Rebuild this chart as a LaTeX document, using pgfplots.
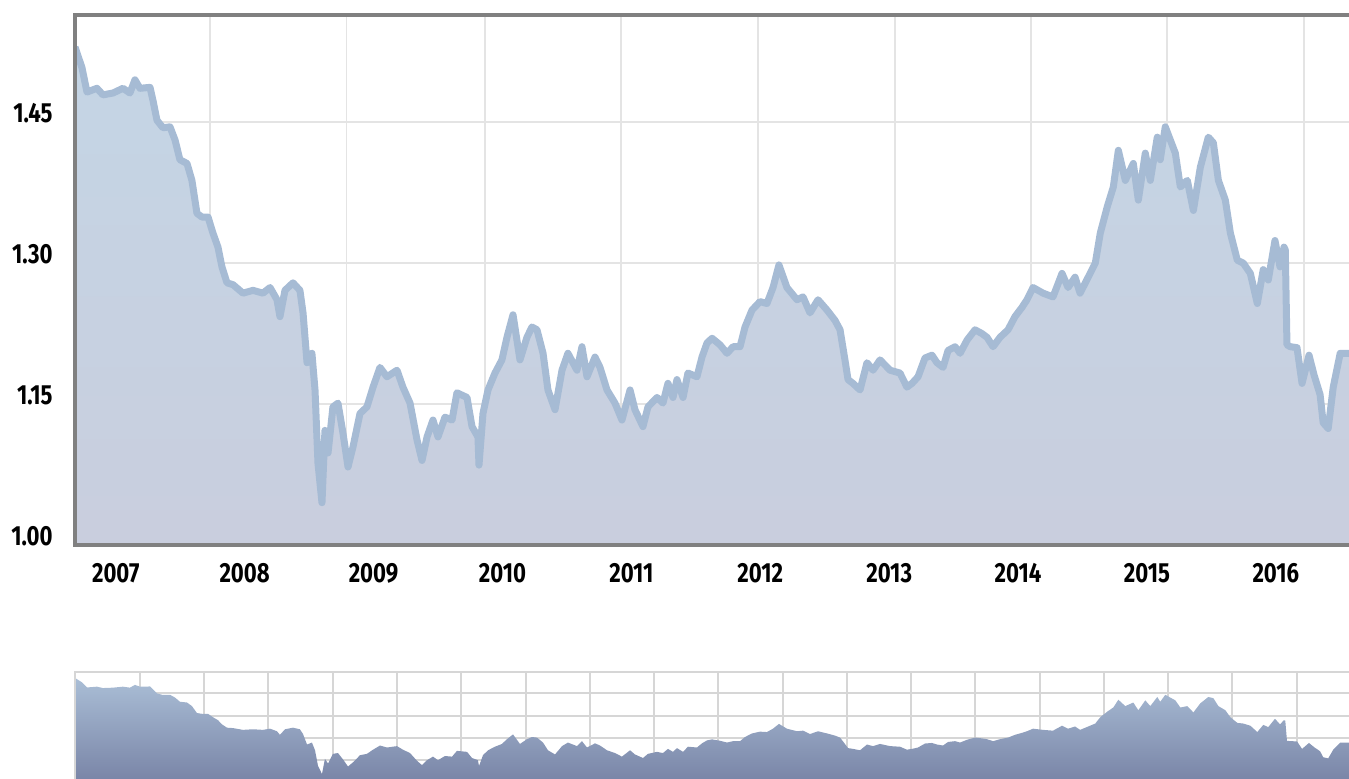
\documentclass[border=0pt]{standalone}
\usepackage{fontspec}
\newfontfamily\tickfont{Fira Sans}[FakeStretch=0.8]
\usepackage{pgfplots}
\pgfplotsset{compat=1.18}
\usepackage{pgfplotstable}

\definecolor{frame}{RGB}{128,128,128}
\definecolor{gridc}{RGB}{228,228,228}
\definecolor{linec}{RGB}{166,187,212}
\definecolor{filltop}{RGB}{196,213,229}
\definecolor{fillbot}{RGB}{201,206,222}
\definecolor{navtop}{RGB}{170,190,214}
\definecolor{navbot}{RGB}{112,122,158}
\definecolor{navgrid}{RGB}{214,214,214}

% GBP/EUR (decimal year, rate)
\pgfplotstableread{
year rate
2007.084 1.530
2007.138 1.508
2007.177 1.482
2007.254 1.486
2007.301 1.479
2007.379 1.481
2007.456 1.486
2007.510 1.481
2007.549 1.495
2007.588 1.486
2007.666 1.487
2007.689 1.473
2007.720 1.452
2007.766 1.444
2007.821 1.445
2007.860 1.431
2007.898 1.410
2007.953 1.406
2007.991 1.388
2008.030 1.353
2008.069 1.349
2008.116 1.349
2008.154 1.332
2008.193 1.317
2008.224 1.296
2008.263 1.279
2008.310 1.277
2008.387 1.268
2008.465 1.271
2008.542 1.268
2008.597 1.274
2008.651 1.261
2008.674 1.243
2008.713 1.271
2008.775 1.279
2008.829 1.271
2008.853 1.247
2008.884 1.194
2008.922 1.204
2008.946 1.165
2008.969 1.087
2009.000 1.045
2009.023 1.122
2009.047 1.098
2009.085 1.147
2009.124 1.151
2009.163 1.119
2009.202 1.083
2009.240 1.104
2009.295 1.140
2009.349 1.147
2009.396 1.168
2009.450 1.189
2009.504 1.179
2009.582 1.186
2009.628 1.168
2009.683 1.151
2009.737 1.112
2009.776 1.090
2009.815 1.115
2009.861 1.133
2009.900 1.115
2009.954 1.136
2010.009 1.133
2010.047 1.162
2010.125 1.157
2010.164 1.126
2010.210 1.115
2010.218 1.085
2010.249 1.140
2010.288 1.165
2010.342 1.183
2010.396 1.197
2010.435 1.221
2010.482 1.245
2010.536 1.197
2010.590 1.221
2010.629 1.232
2010.668 1.229
2010.715 1.204
2010.753 1.165
2010.808 1.144
2010.862 1.186
2010.908 1.204
2010.978 1.186
2011.017 1.211
2011.056 1.179
2011.118 1.200
2011.157 1.189
2011.211 1.165
2011.273 1.151
2011.327 1.133
2011.390 1.165
2011.428 1.144
2011.490 1.126
2011.529 1.147
2011.599 1.157
2011.645 1.151
2011.684 1.172
2011.723 1.157
2011.754 1.176
2011.801 1.157
2011.839 1.183
2011.909 1.179
2011.948 1.200
2011.987 1.215
2012.026 1.220
2012.088 1.213
2012.142 1.204
2012.189 1.211
2012.243 1.211
2012.282 1.232
2012.336 1.250
2012.398 1.259
2012.452 1.257
2012.499 1.274
2012.545 1.298
2012.607 1.274
2012.685 1.261
2012.732 1.264
2012.786 1.247
2012.848 1.261
2012.918 1.250
2012.980 1.239
2013.019 1.229
2013.057 1.197
2013.081 1.176
2013.119 1.172
2013.174 1.165
2013.228 1.194
2013.275 1.186
2013.329 1.197
2013.407 1.186
2013.484 1.183
2013.538 1.168
2013.577 1.172
2013.624 1.179
2013.678 1.199
2013.732 1.202
2013.771 1.194
2013.818 1.189
2013.857 1.207
2013.911 1.211
2013.950 1.204
2014.004 1.218
2014.066 1.229
2014.120 1.225
2014.159 1.221
2014.206 1.211
2014.260 1.221
2014.322 1.229
2014.376 1.243
2014.431 1.253
2014.469 1.261
2014.516 1.274
2014.594 1.268
2014.671 1.264
2014.741 1.289
2014.788 1.274
2014.842 1.285
2014.881 1.268
2014.944 1.285
2014.999 1.300
2015.038 1.332
2015.092 1.360
2015.139 1.381
2015.178 1.420
2015.232 1.388
2015.294 1.406
2015.333 1.367
2015.387 1.417
2015.426 1.388
2015.480 1.434
2015.503 1.410
2015.542 1.445
2015.581 1.431
2015.620 1.417
2015.659 1.381
2015.713 1.388
2015.760 1.356
2015.814 1.402
2015.876 1.434
2015.915 1.428
2015.954 1.388
2016.008 1.367
2016.047 1.332
2016.101 1.303
2016.147 1.300
2016.202 1.289
2016.256 1.257
2016.302 1.293
2016.341 1.282
2016.393 1.324
2016.432 1.296
2016.463 1.317
2016.473 1.314
2016.486 1.213
2016.512 1.211
2016.564 1.210
2016.603 1.172
2016.657 1.202
2016.696 1.181
2016.743 1.160
2016.767 1.130
2016.806 1.124
2016.845 1.168
2016.899 1.204
2016.969 1.204
2017.050 1.200
}\gbpeur

\newcommand\tickfnt{\tickfont\bfseries\fontsize{13.9}{14}\selectfont}

\begin{document}
\begin{tikzpicture}
% main chart
\begin{axis}[
  name=main,
  at={(37.5bp,-7.5bp)}, anchor=north west,
  scale only axis, width=662.5bp, height=265bp,
  xmin=2007.084, xmax=2017.363,
  ymin=1.0, ymax=1.564,
  axis line style={draw=none},
  tick style={draw=none},
  xtick={2008.131,2009.192,2010.265,2011.320,2012.382,2013.445,2014.500,2015.555,2016.618},
  xticklabels={},
  extra x ticks={2007.4,2008.4,2009.4,2010.4,2011.4,2012.4,2013.4,2014.4,2015.4,2016.4},
  extra x tick labels={2007,2008,2009,2010,2011,2012,2013,2014,2015,2016},
  extra x tick style={grid=none},
  ytick={1.00,1.15,1.30,1.45},
  yticklabels={1.00,1.15,1.30,1.45},
  xmajorgrids, ymajorgrids,
  grid style={draw=gridc, line width=0.75bp},
  xticklabel style={font=\tickfnt, anchor=north, inner sep=0pt, yshift=-9bp},
  yticklabel style={font=\tickfnt, anchor=east, inner sep=0pt, xshift=-11bp, yshift=4.5bp},
]
\addplot[draw=none, top color=filltop, bottom color=fillbot] table[x=year, y=rate] {\gbpeur} \closedcycle;
\addplot[draw=linec, line width=3.5bp, line join=round, mark=none] table[x=year, y=rate] {\gbpeur};
\end{axis}
\draw[frame, line width=2bp] (main.north east) -- (main.north west) -- (main.south west) -- (main.south east);

% navigator
\begin{axis}[
  name=nav,
  at={(37.5bp,-336bp)}, anchor=north west,
  scale only axis, width=662.5bp, height=64bp,
  xmin=2007.084, xmax=2017.363,
  ymin=0.914, ymax=1.560,
  axis line style={draw=none},
  tick style={draw=none},
  xtick={2007.588,2008.087,2008.585,2009.084,2009.582,2010.081,2010.579,2011.078,2011.576,2012.075,2012.573,2013.072,2013.570,2014.069,2014.567,2015.066,2015.564,2016.063,2016.561,2017.060},
  ytick={1.4524,1.3378,1.2251,1.1156,1.0044},
  xticklabels={}, yticklabels={},
  xmajorgrids, ymajorgrids,
  grid style={draw=navgrid, line width=1bp},
]
\addplot[draw=none, top color=navtop, bottom color=navbot] table[x=year, y=rate] {\gbpeur} \closedcycle;
\end{axis}
\draw[navgrid, line width=1bp] (nav.south west) -- (nav.north west) -- (nav.north east);

\pgfresetboundingbox
\path[use as bounding box] (0,0) rectangle (674.5bp,-389.5bp);
\end{tikzpicture}
\end{document}
